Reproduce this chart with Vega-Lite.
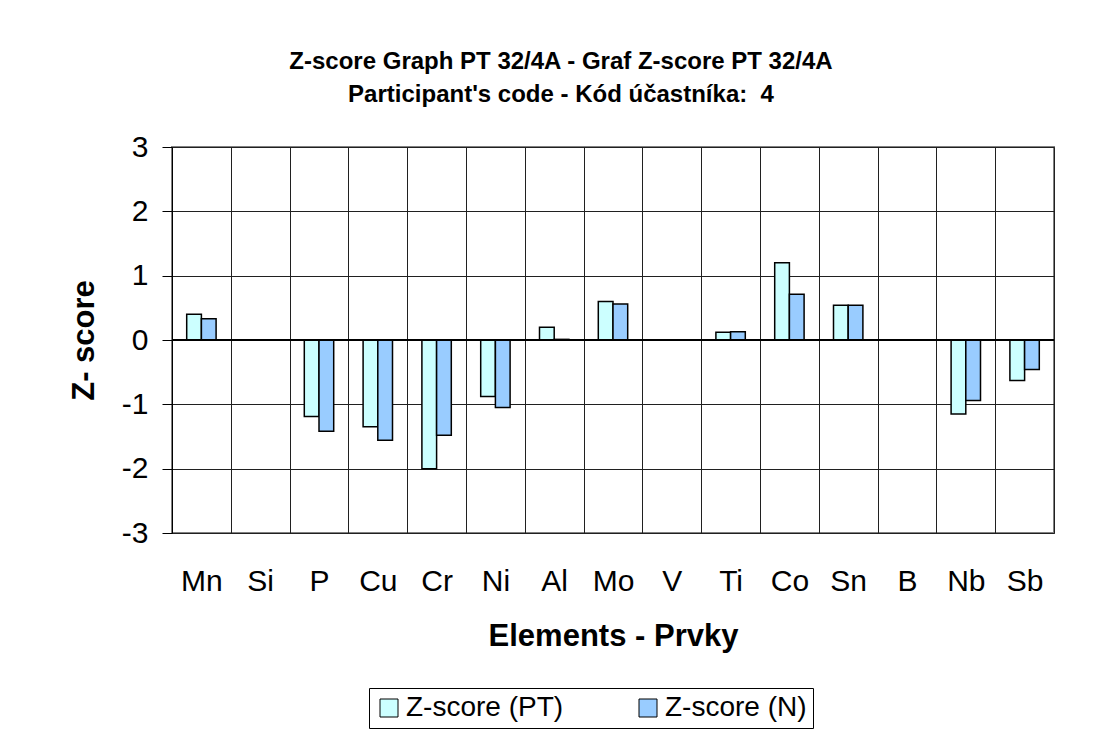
{
  "$schema": "https://vega.github.io/schema/vega-lite/v6.json",
  "width": 882,
  "height": 386,
  "autosize": "none",
  "padding": {"left": 172, "top": 147, "right": 47, "bottom": 216},
  "background": "white",
  "title": {
    "text": ["Z-score Graph PT 32/4A - Graf Z-score PT 32/4A", "Participant's code - Kód účastníka:\u00a0 4"],
    "font": "Liberation Sans",
    "fontSize": 24,
    "fontWeight": "bold",
    "color": "black",
    "lineHeight": 33,
    "anchor": "middle",
    "frame": "group",
    "dx": -52,
    "offset": 25
  },
  "data": {
    "values": [
      {"element": "Mn", "series": "Z-score (PT)", "z": 0.40},
      {"element": "Mn", "series": "Z-score (N)", "z": 0.33},
      {"element": "Si", "series": "Z-score (PT)", "z": 0.0},
      {"element": "Si", "series": "Z-score (N)", "z": 0.0},
      {"element": "P", "series": "Z-score (PT)", "z": -1.19},
      {"element": "P", "series": "Z-score (N)", "z": -1.42},
      {"element": "Cu", "series": "Z-score (PT)", "z": -1.35},
      {"element": "Cu", "series": "Z-score (N)", "z": -1.56},
      {"element": "Cr", "series": "Z-score (PT)", "z": -2.00},
      {"element": "Cr", "series": "Z-score (N)", "z": -1.48},
      {"element": "Ni", "series": "Z-score (PT)", "z": -0.88},
      {"element": "Ni", "series": "Z-score (N)", "z": -1.05},
      {"element": "Al", "series": "Z-score (PT)", "z": 0.20},
      {"element": "Al", "series": "Z-score (N)", "z": 0.01},
      {"element": "Mo", "series": "Z-score (PT)", "z": 0.60},
      {"element": "Mo", "series": "Z-score (N)", "z": 0.56},
      {"element": "V", "series": "Z-score (PT)", "z": 0.0},
      {"element": "V", "series": "Z-score (N)", "z": 0.0},
      {"element": "Ti", "series": "Z-score (PT)", "z": 0.12},
      {"element": "Ti", "series": "Z-score (N)", "z": 0.13},
      {"element": "Co", "series": "Z-score (PT)", "z": 1.20},
      {"element": "Co", "series": "Z-score (N)", "z": 0.71},
      {"element": "Sn", "series": "Z-score (PT)", "z": 0.54},
      {"element": "Sn", "series": "Z-score (N)", "z": 0.54},
      {"element": "B", "series": "Z-score (PT)", "z": 0.0},
      {"element": "B", "series": "Z-score (N)", "z": 0.0},
      {"element": "Nb", "series": "Z-score (PT)", "z": -1.15},
      {"element": "Nb", "series": "Z-score (N)", "z": -0.94},
      {"element": "Sb", "series": "Z-score (PT)", "z": -0.63},
      {"element": "Sb", "series": "Z-score (N)", "z": -0.46}
    ]
  },
  "layer": [
    {
      "mark": {"type": "bar", "stroke": "black", "strokeWidth": 1.5},
      "encoding": {
        "x": {
          "field": "element",
          "type": "nominal",
          "sort": null,
          "scale": {"paddingInner": 0, "paddingOuter": 0},
          "axis": {
            "title": "Elements - Prvky",
            "labelAngle": 0,
            "ticks": false,
            "tickSize": 0,
            "domain": false,
            "grid": true,
            "tickBand": "extent",
            "gridColor": "#202020",
            "gridWidth": 1,
            "gridOpacity": 1,
            "labelFont": "Liberation Sans",
            "labelFontSize": 30,
            "labelColor": "black",
            "labelPadding": 33,
            "titleFont": "Liberation Sans",
            "titleFontSize": 31,
            "titleFontWeight": "bold",
            "titleColor": "black",
            "titlePadding": 25
          }
        },
        "xOffset": {
          "field": "series",
          "type": "nominal",
          "sort": ["Z-score (PT)", "Z-score (N)"],
          "scale": {"paddingInner": 0, "paddingOuter": 1.5}
        },
        "y": {
          "field": "z",
          "type": "quantitative",
          "scale": {"domain": [-3, 3], "nice": false},
          "axis": {
            "title": "Z- score",
            "values": [-3, -2, -1, 0, 1, 2, 3],
            "labelExpr": "'' + datum.value",
            "grid": true,
            "gridColor": "#202020",
            "gridWidth": 1,
            "gridOpacity": 1,
            "domain": true,
            "domainColor": "black",
            "domainWidth": 1,
            "ticks": true,
            "tickSize": 10,
            "tickColor": "black",
            "labelFont": "Liberation Sans",
            "labelFontSize": 30,
            "labelColor": "black",
            "labelPadding": 14,
            "titleFont": "Liberation Sans",
            "titleFontSize": 31,
            "titleFontWeight": "bold",
            "titleColor": "black",
            "titlePadding": 21
          }
        },
        "color": {
          "field": "series",
          "type": "nominal",
          "sort": ["Z-score (PT)", "Z-score (N)"],
          "scale": {"domain": ["Z-score (PT)", "Z-score (N)"], "range": ["#CCFFFF", "#99CCFF"]},
          "legend": {
            "title": null,
            "orient": "none",
            "direction": "horizontal",
            "legendX": 197,
            "legendY": 541,
            "symbolType": "square",
            "symbolSize": 324,
            "symbolStrokeColor": "black",
            "symbolStrokeWidth": 1,
            "symbolOpacity": 1,
            "labelFont": "Liberation Sans",
            "labelFontSize": 28,
            "labelColor": "black",
            "labelOffset": 3,
            "labelLimit": 300,
            "columnPadding": 70,
            "strokeColor": "black",
            "fillColor": "white",
            "padding": 6
          }
        }
      }
    },
    {
      "mark": {"type": "rule", "color": "black", "strokeWidth": 1},
      "encoding": {"y": {"datum": 0}}
    }
  ],
  "config": {
    "view": {"stroke": "#808080", "strokeWidth": 2}
  }
}
